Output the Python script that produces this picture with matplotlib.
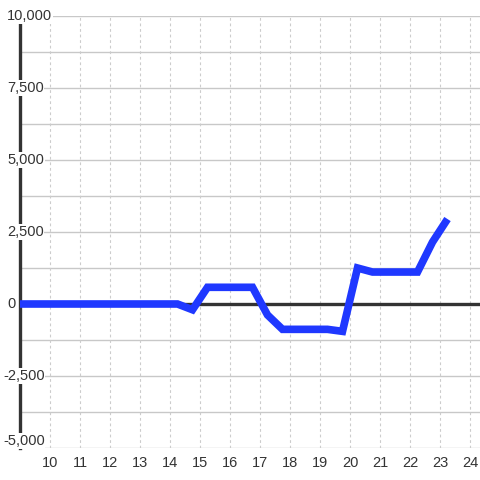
import matplotlib
matplotlib.use('Agg')
import matplotlib.pyplot as plt
from matplotlib.transforms import blended_transform_factory

plt.rcParams['font.family'] = ['Liberation Sans', 'DejaVu Sans']

# data
hours = [9, 14.25, 14.75, 15.25, 16.75, 17.25, 17.75, 19.25, 19.75,
         20.25, 20.75, 22.25, 22.75, 23.25]
values = [0, 0, -200, 580, 580, -380, -880, -880, -950,
          1250, 1110, 1110, 2150, 2950]

x_ticks = list(range(10, 25))
y_ticks = [10000, 7500, 5000, 2500, 0, -2500, -5000]
y_grid = [10000, 8750, 7500, 6250, 5000, 3750, 2500, 1250, 0,
          -1250, -2500, -3750, -5000]

fig = plt.figure(figsize=(4.8, 4.8), dpi=100)
ax = fig.add_axes([20 / 480, 32 / 480, 460 / 480, 432 / 480])
ax.set_xlim(9, 9 + 460 / 30)
ax.set_ylim(-5000, 10000)

for s in ['top', 'right', 'bottom']:
    ax.spines[s].set_visible(False)
ax.spines['left'].set_color('#333333')
ax.spines['left'].set_linewidth(2.4)
ax.spines['left'].set_zorder(1)

# grid
for g in y_grid:
    ax.axhline(g, color='#c8c8c8', lw=1, zorder=0.5)
for t in x_ticks:
    ax.axvline(t, color='#cccccc', lw=0.8, ls=(0, (2.5, 2.5)), zorder=0.5)
ax.axhline(0, color='#333333', lw=2.4, zorder=1.5)

ax.plot(hours, values, color='#1f38ff', lw=5.5,
        solid_joinstyle='miter', solid_capstyle='butt', zorder=3)

ax.set_xticks(x_ticks)
ax.set_xticklabels([str(t) for t in x_ticks])
ax.tick_params(axis='x', length=0, pad=6, labelsize=10.5, labelcolor='#333333')
ax.set_yticks([])

# y labels sit over the axis with a white background
trans = blended_transform_factory(fig.transFigure, ax.transData)
for v in y_ticks:
    x_px = 3 if v < 0 else 7
    va = 'bottom' if v == -5000 else 'center'
    ax.text(x_px / 480, v, f'{v:,}', transform=trans,
            ha='left', va=va, fontsize=10.5, color='#333333', zorder=5,
            bbox=dict(facecolor='white', edgecolor='none', pad=0.5))

fig.savefig('out.png', dpi=100)
